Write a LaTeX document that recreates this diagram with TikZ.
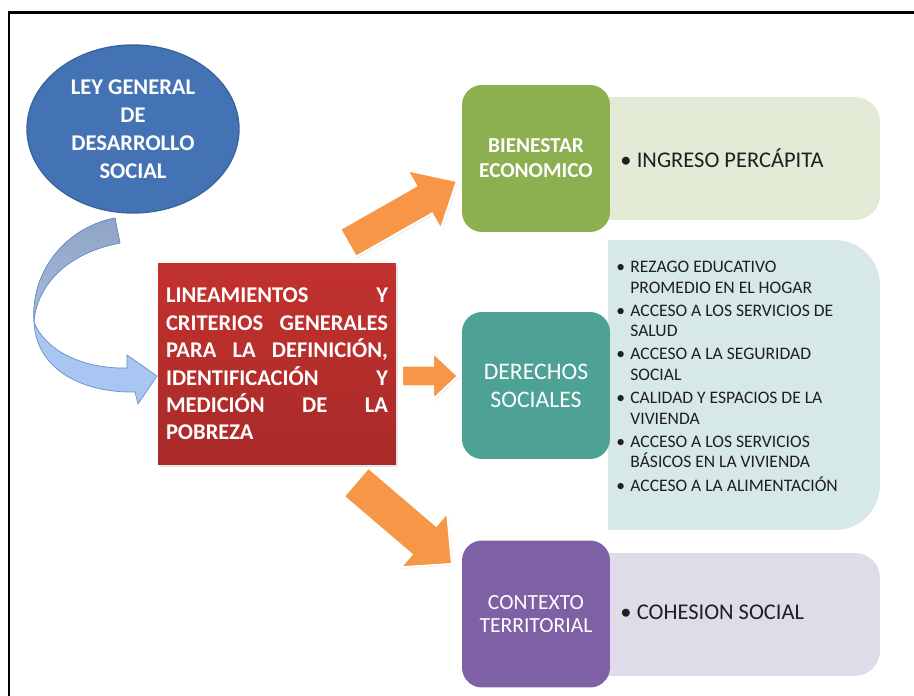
\documentclass[tikz,border=0pt]{standalone}
\usepackage{fontspec}
\setmainfont{Carlito}
\usetikzlibrary{shapes.geometric,calc,shadows}

\definecolor{leyblue}{HTML}{4473B5}
\definecolor{leyline}{HTML}{3A659E}
\definecolor{linred}{HTML}{C3322E}
\definecolor{lindark}{HTML}{A82A28}
\definecolor{arrorange}{HTML}{F79646}
\definecolor{biengreen}{HTML}{8CB04F}
\definecolor{bienlight}{HTML}{E3EAD6}
\definecolor{deremint}{HTML}{4EA195}
\definecolor{derelight}{HTML}{D6E9E6}
\definecolor{contpurple}{HTML}{7E60A4}
\definecolor{contlight}{HTML}{DFDBE9}
\definecolor{curvetop}{HTML}{8FA3C6}
\definecolor{curvemid}{HTML}{A9BCDC}
\definecolor{curvelow}{HTML}{A8C6F1}
\definecolor{curveline}{HTML}{6690CC}
\definecolor{itemtext}{HTML}{1F1F1F}

\tikzset{
  catbox/.style={rectangle, rounded corners=0.4cm, minimum width=2.96cm,
    minimum height=2.94cm, inner sep=0pt, text=white, align=center},
  panel/.style={rectangle, rounded corners=0.5cm, minimum width=5.44cm,
    minimum height=2.46cm, inner sep=0pt},
  paneltext/.style={text=itemtext, inner sep=0pt, align=left},
  orangearrow/.style={fill=arrorange, draw=white, line width=1.2pt,
    drop shadow={opacity=0.18, shadow xshift=0.8pt, shadow yshift=-0.8pt}},
}

%% block arrow between two named points: from, to, shaft half, head half, head length
\newcommand{\orangearrow}[5]{%
  \coordinate (hb) at ($(#2)!#5!(#1)$);
  \filldraw[orangearrow] ($(#1)!#3!90:(#2)$) -- ($(hb)!#3!90:(#2)$)
    -- ($(hb)!#4!90:(#2)$) -- (#2) -- ($(hb)!#4!-90:(#2)$)
    -- ($(hb)!#3!-90:(#2)$) -- ($(#1)!#3!-90:(#2)$) -- cycle;}

\begin{document}
\begin{tikzpicture}[x=0.02cm,y=-0.02cm]
  \useasboundingbox (0,0) rectangle (914,696);
  \draw[line width=0.06cm] (9,720) -- (9,13) -- (940,13);

  %% light panels
  \node[panel, fill=bienlight] (bienI) at (744,158.5) {};
  \fill[bienlight] (bienI.north west) rectangle ([xshift=1cm]bienI.south);
  \node[panel, fill=derelight, rounded corners=0.9cm, minimum height=5.8cm] (dereI) at (744,385) {};
  \fill[derelight] (dereI.north west) rectangle ([xshift=1cm]dereI.south);
  \node[panel, fill=contlight] (contI) at (744,614.5) {};
  \fill[contlight] (contI.north west) rectangle ([xshift=1cm]contI.south);

  %% category boxes
  \node[catbox, fill=biengreen, font=\fontsize{12.1}{14.2}\selectfont\bfseries] (bien) at (536,158.5) {BIENESTAR\\ECONOMICO};
  \node[catbox, fill=deremint, font=\fontsize{13.5}{16}\selectfont] (dere) at (536,385.5) {DERECHOS\\SOCIALES};
  \node[catbox, fill=contpurple, font=\fontsize{12.3}{13.2}\selectfont] (cont) at (536,614) {CONTEXTO\\TERRITORIAL};

  %% panel texts
  \node[paneltext, anchor=west, font=\fontsize{12.8}{15}\selectfont] (ingreso) at (620,158) {\textbullet\hspace{3pt}INGRESO PERCÁPITA};
  \node[paneltext, anchor=west, font=\fontsize{12.8}{15}\selectfont] (cohesion) at (620,612) {\textbullet\hspace{3pt}COHESION SOCIAL};
  \node[paneltext, anchor=north west, font=\fontsize{10}{11.7}\selectfont] (items) at (616,258) {%
    \begin{tabular}{@{}l@{\hspace{3pt}}l@{}}
      \textbullet & REZAGO EDUCATIVO\\
                  & PROMEDIO EN EL HOGAR\\[1.4pt]
      \textbullet & ACCESO A LOS SERVICIOS DE\\
                  & SALUD\\[1.4pt]
      \textbullet & ACCESO A LA SEGURIDAD\\
                  & SOCIAL\\[1.4pt]
      \textbullet & CALIDAD Y ESPACIOS DE LA\\
                  & VIVIENDA\\[1.4pt]
      \textbullet & ACCESO A LOS SERVICIOS\\
                  & BÁSICOS EN LA VIVIENDA\\[1.4pt]
      \textbullet & ACCESO A LA ALIMENTACIÓN
    \end{tabular}};

  %% curved arrow
  \filldraw[draw=curveline, line width=0.4pt, top color=curvetop, bottom color=curvemid]
    (115,218) .. controls (70,226) and (30,268) .. (34,322)
    .. controls (36,290) and (62,254) .. (120,243) -- cycle;
  \filldraw[draw=curveline, line width=0.4pt, fill=curvelow]
    (34,322) .. controls (46,352) and (85,369) .. (127,368) -- (127,355) -- (157,376)
    -- (138,404) -- (135,392) .. controls (80,393) and (36,368) .. (34,322) -- cycle;

  %% main nodes
  \node[ellipse, draw=leyline, line width=0.8pt, fill=leyblue, minimum width=4.24cm,
    minimum height=3.36cm, inner sep=0pt, text=white, align=center,
    font=\fontsize{12.8}{15.9}\selectfont\bfseries] (ley) at (133,129)
    {LEY GENERAL\\DE\\DESARROLLO\\SOCIAL};
  \node[rectangle, top color=linred, bottom color=lindark, minimum width=4.76cm,
    minimum height=4.04cm, text width=4.44cm, inner sep=0pt, align=justify, text=white,
    font=\fontsize{12.8}{15.6}\selectfont\bfseries,
    drop shadow={opacity=0.2, shadow xshift=1pt, shadow yshift=-1pt}] (lin) at (277,364)
    {LINEAMIENTOS\hfill Y\\CRITERIOS\hfill GENERALES\\PARA\hfill LA\hfill DEFINICIÓN,\\
     IDENTIFICACIÓN\hfill Y\\MEDICIÓN\hfill DE\hfill LA\\POBREZA};

  %% orange arrows
  \coordinate (a1s) at (348,243);
  \coordinate (a1e) at (457,181);
  \orangearrow{a1s}{a1e}{0.32cm}{0.68cm}{0.76cm}
  \coordinate (a2s) at (402,376);
  \coordinate (a2e) at (458,376);
  \orangearrow{a2s}{a2e}{0.21cm}{0.47cm}{0.5cm}
  \coordinate (a3s) at (356,482);
  \coordinate (a3e) at (452,564);
  \orangearrow{a3s}{a3e}{0.38cm}{0.72cm}{0.74cm}
\end{tikzpicture}
\end{document}
